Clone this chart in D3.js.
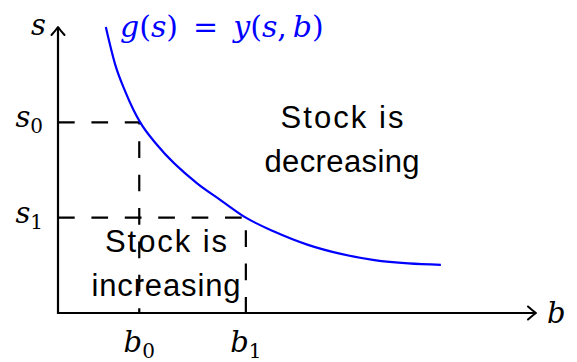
<!DOCTYPE html>
<html>
<head>
<meta charset="utf-8">
<script src="https://cdn.jsdelivr.net/npm/d3@7"></script>
<style>
  html, body { margin: 0; padding: 0; background: #fff; }
  svg { display: block; }
</style>
</head>
<body>
<svg id="chart" width="577" height="362"></svg>
<script>
// Curve g(s) = y(s, b): sampled points (b, s)
const curveB = [1.00, 1.20, 1.41, 1.58, 1.72, 2.07, 2.91, 3.40, 3.93, 4.52, 5.23, 5.92, 6.62, 7.33, 8.01];
const curveS = [6.00, 5.20, 4.64, 4.26, 4.00, 3.53, 2.72, 2.37, 2.00, 1.71, 1.43, 1.24, 1.11, 1.04, 1.01];

// Reference levels on the two axes
const markB = [1.70, 3.93];      // b0, b1
const markS = [4.00, 2.00];      // s0, s1
const markIndex = ["0", "1"];

// Axis extents
const bDomain = [0, 10];
const sDomain = [0, 6];

// Region captions
const upperCaption = ["Stock is", "decreasing"];
const lowerCaption = ["Stock is", "increasing"];

const svg = d3.select("#chart");
const x = d3.scaleLinear().domain(bDomain).range([58, 536]);
const y = d3.scaleLinear().domain(sDomain).range([313, 27]);

const mathFont = "'DejaVu Serif', 'Liberation Serif', serif";
const sansFont = "'Liberation Sans', 'DejaVu Sans', sans-serif";
const mathSize = 29;
const subSize = 20;

// Dashed guides from each axis to the curve
markB.forEach((b, i) => {
  const s = markS[i];
  svg.append("path")
    .attr("d", d3.line()([[x(0), y(s)], [x(b), y(s)], [x(b), y(0)]]))
    .attr("fill", "none")
    .attr("stroke", "#000")
    .attr("stroke-width", 2.2)
    .attr("stroke-dasharray", "16.7 16.7");
});

// Axes
svg.append("path")
  .attr("d", d3.line()([[x(0), y(sDomain[1])], [x(0), y(0)], [x(bDomain[1]), y(0)]]))
  .attr("fill", "none")
  .attr("stroke", "#000")
  .attr("stroke-width", 2.2)
  .attr("stroke-linejoin", "miter");

// Arrow tips
svg.append("path")
  .attr("transform", `translate(${x(0)},${y(sDomain[1])})`)
  .attr("d", "M-6.5,8 Q-2,3 0,0 Q2,3 6.5,8")
  .attr("fill", "none").attr("stroke", "#000").attr("stroke-width", 2)
  .attr("stroke-linecap", "round").attr("stroke-linejoin", "round");
svg.append("path")
  .attr("transform", `translate(${x(bDomain[1])},${y(0)})`)
  .attr("d", "M-8,-6.5 Q-3,-2 0,0 Q-3,2 -8,6.5")
  .attr("fill", "none").attr("stroke", "#000").attr("stroke-width", 2)
  .attr("stroke-linecap", "round").attr("stroke-linejoin", "round");

// The curve
const pts = curveB.map((b, i) => [x(b), y(curveS[i])]);
svg.append("path")
  .attr("d", d3.line().curve(d3.curveMonotoneX)(pts))
  .attr("fill", "none")
  .attr("stroke", "#0000ff")
  .attr("stroke-width", 2.2);

// Axis names
svg.append("text")
  .attr("x", x(0) - 12).attr("y", y(sDomain[1]) + 8)
  .attr("text-anchor", "end")
  .attr("font-family", mathFont).attr("font-style", "italic").attr("font-size", mathSize)
  .text("s");
svg.append("text")
  .attr("x", x(bDomain[1]) + 11).attr("y", y(0) + 10)
  .attr("font-family", mathFont).attr("font-style", "italic").attr("font-size", mathSize)
  .text("b");

// Curve label
svg.append("text")
  .attr("x", 120).attr("y", 37)
  .attr("font-family", mathFont).attr("font-size", 30)
  .attr("fill", "#0000ff")
  .call(t => {
    const parts = [["g", true], ["(", false], ["s", true], [")", false], ["\u2002=\u2002", false],
                   ["y", true], ["(", false], ["s", true], [",", false], ["\u2009b", true], [")", false]];
    parts.forEach(([p, it]) => t.append("tspan").attr("font-style", it ? "italic" : "normal").text(p));
  });

// Level labels with subscripts
function subLabel(sel, letter, idx) {
  sel.append("tspan").attr("font-style", "italic").attr("font-size", mathSize).text(letter);
  sel.append("tspan").attr("font-size", subSize).attr("dy", 6).text(idx);
}
markS.forEach((s, i) => {
  svg.append("text")
    .attr("x", x(0) - 15).attr("y", y(s) + 5)
    .attr("text-anchor", "end")
    .attr("font-family", mathFont)
    .call(subLabel, "s", markIndex[i]);
});
markB.forEach((b, i) => {
  svg.append("text")
    .attr("x", x(b)).attr("y", y(0) + 39)
    .attr("text-anchor", "middle")
    .attr("font-family", mathFont)
    .call(subLabel, "b", markIndex[i]);
});

// Region captions
function caption(lines, cx, baseline, widths) {
  lines.forEach((line, i) => {
    svg.append("text")
      .attr("x", cx).attr("y", baseline + i * 43.5)
      .attr("text-anchor", "middle")
      .attr("font-family", sansFont).attr("font-size", 31)
      .attr("textLength", widths[i]).attr("lengthAdjust", "spacing")
      .attr("fill", "#000")
      .text(line);
  });
}
caption(upperCaption, 342, 128, [123, 155]);
caption(lowerCaption, 166, 252, [122, 149]);
</script>
</body>
</html>
